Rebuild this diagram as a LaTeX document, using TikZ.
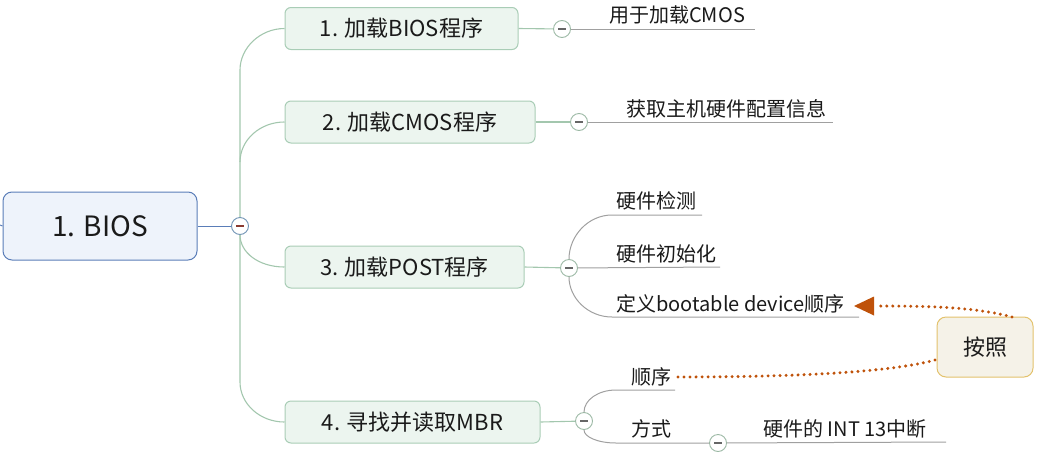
\documentclass[tikz,border=0pt]{standalone}
\usepackage{fontspec}
\setmainfont{Noto Sans CJK SC}
\usetikzlibrary{arrows.meta}
\definecolor{rootfill}{HTML}{EEF3FB}
\definecolor{rootdraw}{HTML}{5A7DB8}
\definecolor{brfill}{HTML}{ECF5EF}
\definecolor{brdraw}{HTML}{A9CDB6}
\definecolor{brline}{HTML}{A3C7AE}
\definecolor{subline}{HTML}{A0A0A0}
\definecolor{calfill}{HTML}{F5F2E8}
\definecolor{caldraw}{HTML}{E3C26C}
\definecolor{rel}{HTML}{BF520A}
\definecolor{txt}{HTML}{1A1A1A}
\definecolor{minusred}{HTML}{8A3A30}
\tikzset{
  rootbox/.style={draw=rootdraw, fill=rootfill, line width=1pt, rounded corners=9pt,
    minimum width=194pt, minimum height=68pt, inner sep=0pt, text=txt,
    font=\fontsize{28}{32}\selectfont},
  brbox/.style={draw=brdraw, fill=brfill, line width=1pt, rounded corners=6pt,
    minimum height=42pt, inner sep=0pt, text=txt,
    font=\fontsize{22}{26}\selectfont},
  subtext/.style={anchor=base west, inner sep=0pt, text=txt,
    font=\fontsize{20}{24}\selectfont},
  calbox/.style={draw=caldraw, fill=calfill, line width=1pt, rounded corners=9pt,
    minimum width=96pt, minimum height=60pt, inner sep=0pt, text=txt,
    font=\fontsize{22}{26}\selectfont},
  fold/.style 2 args={circle, draw=#1, fill=white, line width=0.9pt, minimum size=17pt, inner sep=0pt,
    path picture={\draw[#2, line width=1.3pt]
      ([xshift=-4pt]path picture bounding box.center) -- ([xshift=4pt]path picture bounding box.center);}},
  trunk/.style={draw=brline, line width=1.1pt},
  subl/.style={draw=subline, line width=1pt},
  relline/.style={draw=rel, line width=3.3pt, line cap=round, dash pattern=on 0pt off 6pt},
}
\begin{document}
\begin{tikzpicture}[x=1pt,y=-1pt]
\useasboundingbox (0,0) rectangle (1040,461);

% root
\node[rootbox] (root) at (100,226) {1. BIOS};
\coordinate (stub) at (0,225);
\draw[draw=rootdraw, line width=1pt] (stub) -- (root.west);

% main fold
\node[fold={rootdraw!70!brline}{minusred}] (c0) at (240,226) {};
\draw[draw=rootdraw, line width=1pt] (root.east) -- (c0);

% branch boxes
\node[brbox, minimum width=233pt] (b1) at (401.5,28.5) {1. 加载BIOS程序};
\node[brbox, minimum width=250pt] (b2) at (410,122) {2. 加载CMOS程序};
\node[brbox, minimum width=239pt] (b3) at (404.5,267) {3. 加载POST程序};
\node[brbox, minimum width=255pt] (b4) at (412.5,422) {4. 寻找并读取MBR};

% trunk
\coordinate (k1) at (240,70);
\coordinate (k2) at (240,162);
\coordinate (k4) at (240,382);
\draw[trunk] (c0.north) -- (k1) .. controls (240,48) and (260,28.5) .. (b1.west);
\draw[trunk] (k2) .. controls (240,140) and (260,122) .. (b2.west);
\draw[trunk] (c0.south) .. controls (240,252) and (258,267) .. (b3.west);
\draw[trunk] (c0.south) -- (k4) .. controls (240,404) and (260,422) .. (b4.west);

% sub folds
\node[fold={brline!80!gray}{gray!80!black}] (c1) at (562,29) {};
\node[fold={brline!80!gray}{gray!80!black}] (c2) at (579,122) {};
\node[fold={brline!80!gray}{gray!80!black}] (c3) at (569,268) {};
\node[fold={brline!80!gray}{gray!80!black}] (c4) at (584,421) {};
\node[fold={brline!80!gray}{gray!80!black}] (c5) at (718,443) {};
\draw[trunk] (b1.east) -- (c1);
\draw[trunk] (b2.east) -- (c2);
\draw[trunk] (b3.east) -- (c3);
\draw[trunk] (b4.east) -- (c4);

% branch 1
\node[subtext] (t1) at (609,22) {用于加载CMOS};
\coordinate (e1) at (755,29);
\draw[subl] (c1) -- (e1);

% branch 2
\node[subtext] (t2) at (626,116) {获取主机硬件配置信息};
\coordinate (e2) at (833,122);
\draw[subl] (c2) -- (e2);

% branch 3
\node[subtext] (t31) at (616,208) {硬件检测};
\node[subtext] (t32) at (616,261) {硬件初始化};
\node[subtext] (t33) at (616,311) {定义bootable device顺序};
\coordinate (a31) at (612,215);
\coordinate (e31) at (702,215);
\coordinate (e32) at (720,267);
\coordinate (a33) at (612,317);
\coordinate (e33) at (859,317);
\draw[subl] (c3.north) .. controls (569,236) and (588,215) .. (a31) -- (e31);
\draw[subl] (c3) -- (e32);
\draw[subl] (c3.south) .. controls (569,298) and (588,317) .. (a33) -- (e33);

% branch 4
\node[subtext] (t41) at (631,384) {顺序};
\node[subtext] (t42) at (631,436) {方式};
\node[subtext] (t5) at (763,436) {硬件的 INT 13中断};
\coordinate (a41) at (616,390);
\coordinate (e41) at (675,390);
\coordinate (a42) at (616,443);
\coordinate (e5) at (946,442);
\draw[subl] (c4.north) .. controls (584,400) and (598,390) .. (a41) -- (e41);
\draw[subl] (c4.south) .. controls (584,437) and (598,443) .. (a42) -- (c5);
\draw[subl] (c5) -- (e5);

% callout
\node[calbox] (cal) at (985,347) {按照};
\coordinate (tip) at (854,306);
\coordinate (s1) at (1012,317);
\coordinate (s2) at (935,360);
\coordinate (tip2) at (674,377);
\draw[relline] (s1) .. controls (975,307) and (930,306) .. ([xshift=22pt]tip);
\fill[rel] (tip) -- ++(20,-9.5) -- ++(0,19) -- cycle;
\draw[relline] (s2) .. controls (880,375) and (760,377) .. (tip2);
\end{tikzpicture}
\end{document}
